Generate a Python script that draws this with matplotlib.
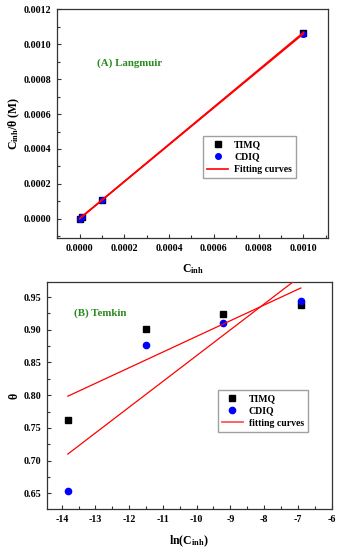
import numpy as np
import matplotlib
matplotlib.use("Agg")
import matplotlib.pyplot as plt
from matplotlib.ticker import MultipleLocator, FormatStrFormatter

# data
c_inh = [1e-6, 1e-5, 1e-4, 1e-3]
theta_timq = [0.762, 0.901, 0.924, 0.938]
theta_cdiq = [0.653, 0.877, 0.911, 0.944]
ln_c = [-13.82, -11.51, -9.21, -6.91]

plt.rcParams['font.family'] = ['Liberation Serif', 'DejaVu Serif']
plt.rcParams['font.weight'] = 'bold'
plt.rcParams['mathtext.fontset'] = 'custom'
plt.rcParams['mathtext.rm'] = 'Liberation Serif:bold'
plt.rcParams['mathtext.it'] = 'Liberation Serif:bold'
plt.rcParams['mathtext.bf'] = 'Liberation Serif:bold'
plt.rcParams['axes.unicode_minus'] = False
plt.rcParams['axes.linewidth'] = 0.9
plt.rcParams['axes.edgecolor'] = '#333333'

green = '#2a8a1e'

fig = plt.figure(figsize=(3.4, 5.5), dpi=100)
axA = fig.add_axes([0.168, 0.567, 0.797, 0.4164])
axB = fig.add_axes([0.137, 0.0745, 0.838, 0.4127])


def style(ax):
    ax.tick_params(which='both', direction='in', top=False, right=False,
                   labelsize=7.2, width=0.8, colors='#333333', labelcolor='black')
    ax.tick_params(which='major', length=3, pad=4)
    ax.tick_params(which='minor', length=2)
    for lab in ax.get_xticklabels() + ax.get_yticklabels():
        lab.set_fontweight('bold')


# (A) Langmuir
c = np.array(c_inh)
yt = c / np.array(theta_timq)
yc = c / np.array(theta_cdiq)
axA.plot(c, yt, 's', color='black', ms=5, label='TIMQ', zorder=3)
axA.plot(c, yc, 'o', color='blue', ms=4, label='CDIQ', zorder=4)
for y in (yt, yc):
    p = np.polyfit(c, y, 1)
    axA.plot(c[[0, -1]], np.polyval(p, c[[0, -1]]), '-', color='red', lw=1.2, zorder=5)
axA.plot([], [], '-', color='red', lw=1.2, label='Fitting curves')
axA.set_xlim(-0.0001, 0.00111)
axA.set_ylim(-0.00011, 0.0012)
axA.xaxis.set_major_locator(MultipleLocator(0.0002))
axA.xaxis.set_minor_locator(MultipleLocator(0.0001))
axA.yaxis.set_major_locator(MultipleLocator(0.0002))
axA.yaxis.set_minor_locator(MultipleLocator(0.0001))
axA.xaxis.set_major_formatter(FormatStrFormatter('%.4f'))
axA.yaxis.set_major_formatter(FormatStrFormatter('%.4f'))
style(axA)
axA.set_xlabel(r'C$_{\mathrm{inh}}$', fontsize=8.5, fontweight='bold', labelpad=7)
axA.set_ylabel(r'C$_{\mathrm{inh}}$/θ (M)', fontsize=8.5, fontweight='bold', labelpad=1)
axA.text(0.266, 0.764, '(A) Langmuir', transform=axA.transAxes, color=green,
         fontsize=7.8, fontweight='bold', ha='center', va='center')
axA.legend(loc='upper left', bbox_to_anchor=(0.539, 0.445), fontsize=7,
           frameon=True, fancybox=False, edgecolor='#888888', handlelength=2.2,
           borderpad=0.4, labelspacing=0.35, handletextpad=0.6, borderaxespad=0)

# (B) Temkin
x = np.array(ln_c)
axB.plot(x, theta_timq, 's', color='black', ms=4, label='TIMQ', zorder=3)
axB.plot(x, theta_cdiq, 'o', color='blue', ms=4.5, label='CDIQ', zorder=4)
for th in (theta_timq, theta_cdiq):
    p = np.polyfit(x, th, 1)
    axB.plot(x[[0, -1]], np.polyval(p, x[[0, -1]]), '-', color='red', lw=0.9, zorder=5)
axB.plot([], [], '-', color='#ff5555', lw=1.3, label='fitting curves')
axB.set_xlim(-14.45, -6)
axB.set_ylim(0.626, 0.973)
axB.xaxis.set_major_locator(MultipleLocator(1))
axB.xaxis.set_minor_locator(MultipleLocator(0.5))
axB.yaxis.set_major_locator(MultipleLocator(0.05))
axB.yaxis.set_minor_locator(MultipleLocator(0.025))
axB.yaxis.set_major_formatter(FormatStrFormatter('%.2f'))
style(axB)
axB.set_xlabel(r'ln(C$_{\mathrm{inh}}$)', fontsize=8.5, fontweight='bold', labelpad=7)
axB.set_ylabel('θ', fontsize=8.5, fontweight='bold', labelpad=2)
axB.text(0.187, 0.863, '(B) Temkin', transform=axB.transAxes, color=green,
         fontsize=7.8, fontweight='bold', ha='center', va='center')
axB.legend(loc='upper left', bbox_to_anchor=(0.601, 0.524), fontsize=7,
           frameon=True, fancybox=False, edgecolor='#888888', handlelength=2.2,
           borderpad=0.4, labelspacing=0.35, handletextpad=0.6, borderaxespad=0)

fig.savefig('out.png', dpi=100)
